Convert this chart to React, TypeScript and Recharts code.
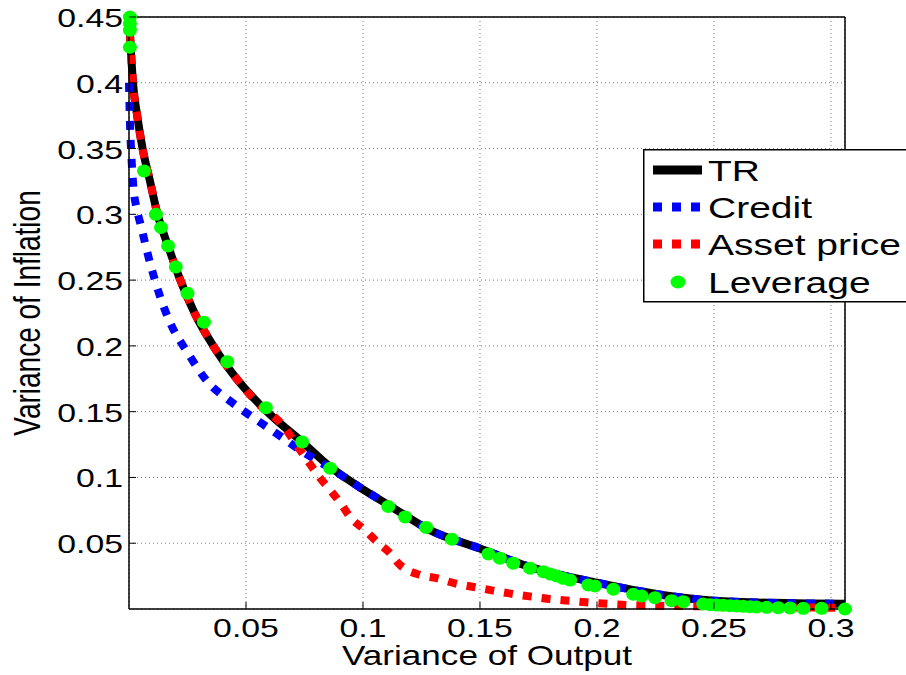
import { ComposedChart, Line, XAxis, YAxis, CartesianGrid, Legend } from "recharts";

// values
const TR_X = [0, 0.0008, 0.0017, 0.0035, 0.0058, 0.009, 0.0122, 0.0167, 0.0215, 0.028, 0.036, 0.046, 0.059, 0.074, 0.086, 0.1, 0.111, 0.1286, 0.15, 0.1714, 0.2, 0.228, 0.25, 0.28, 0.306];
const TR_Y = [0.45, 0.425, 0.4, 0.375, 0.35, 0.325, 0.3, 0.276, 0.252, 0.225, 0.2, 0.175, 0.15, 0.127, 0.108, 0.091, 0.079, 0.06, 0.046, 0.032, 0.02, 0.0107, 0.0063, 0.0045, 0.004];

const CREDIT_X = [0, 0.0004, 0.001, 0.0019, 0.0032, 0.005, 0.009, 0.0132, 0.0175, 0.025, 0.033, 0.044, 0.056, 0.065, 0.073, 0.086, 0.1, 0.111, 0.1286, 0.15, 0.1714, 0.2, 0.228, 0.25, 0.28, 0.306];
const CREDIT_Y = [0.4, 0.37, 0.345, 0.32, 0.305, 0.292, 0.263, 0.238, 0.218, 0.195, 0.174, 0.157, 0.142, 0.131, 0.121, 0.107, 0.091, 0.079, 0.06, 0.046, 0.032, 0.02, 0.0107, 0.0063, 0.0045, 0.004];

const ASSET_X = [0, 0.0008, 0.0017, 0.0035, 0.0058, 0.009, 0.0122, 0.0167, 0.0215, 0.028, 0.036, 0.046, 0.0547, 0.066, 0.073, 0.0774, 0.0816, 0.0859, 0.091, 0.0944, 0.1009, 0.106, 0.1115, 0.1158, 0.1244, 0.1315, 0.1393, 0.1479, 0.1556, 0.164, 0.172, 0.1806, 0.189, 0.1977, 0.2056, 0.214, 0.222, 0.23, 0.239, 0.26, 0.28, 0.306];
const ASSET_Y = [0.45, 0.425, 0.4, 0.375, 0.35, 0.325, 0.3, 0.276, 0.252, 0.225, 0.2, 0.175, 0.157, 0.139, 0.121, 0.11, 0.0997, 0.0906, 0.079, 0.07, 0.06, 0.051, 0.0426, 0.0335, 0.0259, 0.0234, 0.0195, 0.0165, 0.014, 0.0114, 0.0094, 0.0074, 0.0061, 0.0048, 0.0038, 0.003, 0.0025, 0.0023, 0.0022, 0.0016, 0.0012, 0.001];

const LEV_X = [0.0004, 0.0004, 0.0004, 0.0004, 0.0064, 0.0115, 0.0137, 0.0167, 0.02, 0.025, 0.032, 0.042, 0.0585, 0.074, 0.086, 0.1108, 0.118, 0.127, 0.138, 0.1536, 0.1585, 0.1642, 0.1714, 0.1771, 0.18, 0.1828, 0.1856, 0.1885, 0.1963, 0.1991, 0.207, 0.2155, 0.2191, 0.2248, 0.2319, 0.2369, 0.2454, 0.2483, 0.2511, 0.254, 0.2568, 0.2597, 0.2625, 0.2654, 0.2682, 0.2725, 0.2775, 0.2825, 0.2882, 0.296, 0.306];
const LEV_Y = [0.45, 0.445, 0.44, 0.427, 0.333, 0.3, 0.29, 0.276, 0.26, 0.24, 0.218, 0.188, 0.153, 0.127, 0.107, 0.0779, 0.07, 0.062, 0.053, 0.0419, 0.0386, 0.0348, 0.031, 0.0284, 0.0266, 0.0251, 0.0233, 0.022, 0.0183, 0.0175, 0.015, 0.0112, 0.0099, 0.0086, 0.0063, 0.0056, 0.0038, 0.0033, 0.003, 0.0028, 0.0025, 0.0023, 0.002, 0.0018, 0.0015, 0.0013, 0.001, 0.0008, 0.0005, 0.0005, 0];

const X_TICKS = [0.05, 0.1, 0.15, 0.2, 0.25, 0.3];
const Y_TICKS = [0.05, 0.1, 0.15, 0.2, 0.25, 0.3, 0.35, 0.4, 0.45];
const X_DOMAIN = [0, 0.306];
const Y_DOMAIN = [0, 0.45];
const X_TITLE = "Variance of Output";
const Y_TITLE = "Variance of Inflation";
const NAMES = ["TR", "Credit", "Asset price", "Leverage"];

const FONT = "'Liberation Sans', Arial, Helvetica, sans-serif";
const DASH = "9 10";

const STYLE: Record<string, { color: string; dash?: string; dot?: boolean }> = {
  TR: { color: "#000000" },
  Credit: { color: "#0000ff", dash: DASH },
  "Asset price": { color: "#ff0000", dash: DASH },
  Leverage: { color: "#00ff00", dot: true },
};

const toPoints = (xs: number[], ys: number[]) => xs.map((x, i) => ({ x, y: ys[i] }));

const trData = toPoints(TR_X, TR_Y);
const creditData = toPoints(CREDIT_X, CREDIT_Y);
const assetData = toPoints(ASSET_X, ASSET_Y);
const levData = toPoints(LEV_X, LEV_Y);

function XTick({ x, y, payload }: any) {
  return (
    <g>
      <line x1={x} y1={y} x2={x} y2={y - 7} stroke="#000" />
      <text
        transform={`translate(${x},${y + 28}) scale(1.3,1)`}
        textAnchor="middle"
        fontSize={26}
        fontFamily={FONT}
        fill="#000"
      >
        {String(payload.value)}
      </text>
    </g>
  );
}

function YTick({ x, y, payload }: any) {
  return (
    <g>
      <line x1={x} y1={y} x2={x + 7} y2={y} stroke="#000" />
      <text
        transform={`translate(${x - 6},${y + 10}) scale(1.3,1)`}
        textAnchor="end"
        fontSize={26}
        fontFamily={FONT}
        fill="#000"
      >
        {String(payload.value)}
      </text>
    </g>
  );
}

function XTitle(props: any) {
  const vb = props.viewBox;
  return (
    <text
      transform={`translate(${vb.x + vb.width / 2},${vb.y + 56}) scale(1.3,1)`}
      textAnchor="middle"
      fontSize={27}
      fontFamily={FONT}
      fill="#000"
    >
      {X_TITLE}
    </text>
  );
}

function YTitle(props: any) {
  const vb = props.viewBox;
  return (
    <text
      transform={`translate(${vb.x + 40},${vb.y + vb.height / 2}) rotate(-90) scale(1,1.3)`}
      textAnchor="middle"
      fontSize={28}
      fontFamily={FONT}
      fill="#000"
    >
      {Y_TITLE}
    </text>
  );
}

function LegendBox() {
  const rowY = [21, 58, 95, 133];
  return (
    <svg width={280} height={154} style={{ display: "block" }}>
      <rect x={0.75} y={0.75} width={290} height={152} fill="#fff" stroke="#000" strokeWidth={1.5} />
      {NAMES.map((name, i) => {
        const s = STYLE[name];
        const cy = rowY[i];
        return (
          <g key={name}>
            {s.dot ? (
              <ellipse cx={35} cy={cy} rx={7.5} ry={6.5} fill={s.color} />
            ) : (
              <line x1={10} y1={cy} x2={59} y2={cy} stroke={s.color} strokeWidth={9} strokeDasharray={s.dash} />
            )}
            <text
              transform={`translate(65,${cy + 11}) scale(1.3,1)`}
              fontSize={30}
              fontFamily={FONT}
              fill="#000"
            >
              {name}
            </text>
          </g>
        );
      })}
    </svg>
  );
}

export default function App() {
  return (
    <div style={{ position: "absolute", left: 0, top: 0, width: 906, height: 675, overflow: "hidden", background: "#fff" }}>
      <ComposedChart width={906} height={675} margin={{ top: 17, right: 61, bottom: 0, left: 0 }}>
        <CartesianGrid stroke="#7a7a7a" strokeDasharray="1 3" />
        <XAxis
          dataKey="x"
          type="number"
          domain={X_DOMAIN}
          ticks={X_TICKS}
          interval={0}
          height={66}
          tickSize={0}
          tickMargin={0}
          tickLine={false}
          tick={<XTick />}
          axisLine={{ stroke: "#000", strokeWidth: 1.5 }}
          label={{ content: XTitle }}
        />
        <YAxis
          dataKey="y"
          type="number"
          domain={Y_DOMAIN}
          ticks={Y_TICKS}
          interval={0}
          width={129}
          tickSize={0}
          tickMargin={0}
          tickLine={false}
          tick={<YTick />}
          axisLine={{ stroke: "#000", strokeWidth: 1.5 }}
          label={{ content: YTitle }}
        />
        <XAxis
          xAxisId="top"
          orientation="top"
          type="number"
          domain={X_DOMAIN}
          ticks={X_TICKS}
          interval={0}
          mirror
          height={1}
          tick={false}
          tickSize={7}
          tickLine={{ stroke: "#000" }}
          axisLine={{ stroke: "#000", strokeWidth: 1.5 }}
        />
        <YAxis
          yAxisId="right"
          orientation="right"
          type="number"
          domain={Y_DOMAIN}
          ticks={Y_TICKS}
          interval={0}
          mirror
          width={1}
          tick={false}
          tickSize={7}
          tickLine={{ stroke: "#000" }}
          axisLine={{ stroke: "#000", strokeWidth: 1.5 }}
        />
        <Legend
          layout="vertical"
          align="center"
          verticalAlign="middle"
          content={() => <LegendBox />}
          wrapperStyle={{ position: "absolute", left: 643, top: 149, width: 280, height: 154, margin: 0 }}
        />
        <Line
          name="TR"
          data={trData}
          dataKey="y"
          type="monotone"
          stroke={STYLE.TR.color}
          strokeWidth={8}
          dot={false}
          activeDot={false}
          isAnimationActive={false}
        />
        <Line
          name="Credit"
          data={creditData}
          dataKey="y"
          type="monotone"
          stroke={STYLE.Credit.color}
          strokeWidth={8}
          strokeDasharray={DASH}
          dot={false}
          activeDot={false}
          isAnimationActive={false}
        />
        <Line
          name="Asset price"
          data={assetData}
          dataKey="y"
          type="monotone"
          stroke={STYLE["Asset price"].color}
          strokeWidth={8}
          strokeDasharray={DASH}
          dot={false}
          activeDot={false}
          isAnimationActive={false}
        />
        <Line
          name="Leverage"
          data={levData}
          dataKey="y"
          type="linear"
          stroke="none"
          dot={(p: any) => (
            <ellipse key={`lev-${p.index}`} cx={p.cx} cy={p.cy} rx={7} ry={6.5} fill={STYLE.Leverage.color} />
          )}
          activeDot={false}
          isAnimationActive={false}
        />
      </ComposedChart>
    </div>
  );
}
